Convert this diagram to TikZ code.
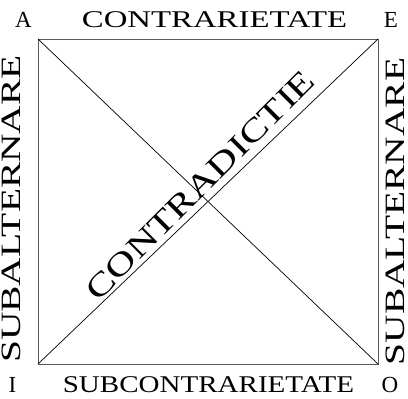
\documentclass[tikz,border=0pt]{standalone}
\usepackage{fontspec}
\setmainfont{Liberation Serif}
\usepackage{graphicx}

\tikzset{
  sidelabel/.style={inner sep=0pt, font=\fontsize{28}{28}\selectfont},
  rowlabel/.style={inner sep=0pt, font=\fontsize{24}{24}\selectfont},
  cornerlabel/.style={inner sep=0pt, font=\fontsize{23}{23}\selectfont},
}
\newcommand{\widetext}[2]{\scalebox{#1}[1]{#2}}

\begin{document}
\begin{tikzpicture}[x=1pt,y=-1pt]
\useasboundingbox (0,0) rectangle (408,399);

% corners of the square
\coordinate (cA) at (38,39);
\coordinate (cE) at (378,39);
\coordinate (cO) at (378,364);
\coordinate (cI) at (38,364);

\draw[gray!70!black, line width=1pt] (cA) -- (cE) -- (cO) -- (cI) -- cycle;
\draw[line width=0.7pt] (cA) -- (cO);
\draw[line width=0.7pt] (cI) -- (cE);

% corner letters
\node[cornerlabel] (lA) at (23.5,20) {A};
\node[cornerlabel] (lE) at (391,20) {E};
\node[cornerlabel] (lI) at (12.5,384.5) {I};
\node[cornerlabel] (lO) at (390,384.5) {O};

% relations
\node[rowlabel] (contrarietate) at (214.5,20) {\widetext{1.366}{CONTRARIETATE}};
\node[rowlabel] (subcontrarietate) at (208.5,384.5) {\widetext{1.21}{SUBCONTRARIETATE}};
\node[sidelabel, rotate=90] (subaltL) at (11.5,209) {\widetext{1.41}{SUBALTERNARE}};
\node[sidelabel, rotate=90] (subaltR) at (395,211.5) {\widetext{1.41}{SUBALTERNARE}};
\node[inner sep=0pt, anchor=base, rotate=45, font=\fontsize{32}{32}\selectfont]
  (contradictie) at (207.5,192.5) {\widetext{1.31}{CONTRADICTIE}};
\end{tikzpicture}
\end{document}
